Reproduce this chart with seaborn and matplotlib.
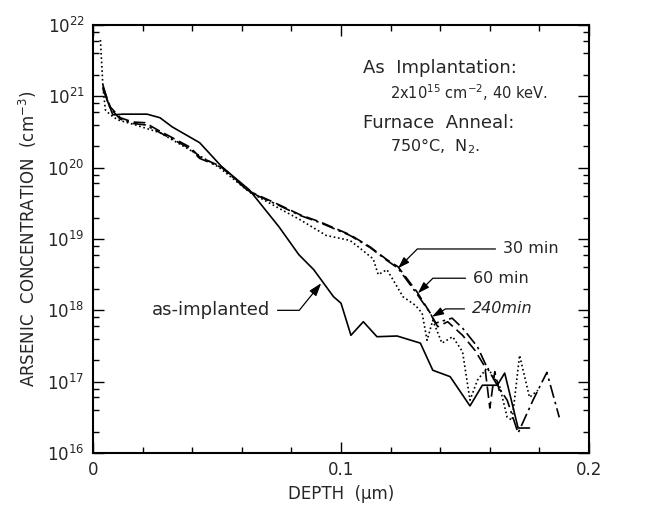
import numpy as np
import pandas as pd
import seaborn as sns
import matplotlib
matplotlib.use("Agg")
import matplotlib.pyplot as plt
from matplotlib.ticker import LogLocator, MultipleLocator, NullFormatter

# depth in um, concentration given as log10(cm^-3)
depth_asimp = [0.004, 0.006, 0.008, 0.012, 0.0218, 0.027, 0.032, 0.043, 0.052, 0.063,
               0.075, 0.083, 0.089, 0.097, 0.100, 0.104, 0.109, 0.1145, 0.1226, 0.132,
               0.137, 0.144, 0.152, 0.157, 0.163, 0.166, 0.1714, 0.176]
logc_asimp = [21.16, 20.92, 20.74, 20.75, 20.75, 20.70, 20.57, 20.35, 20.01, 19.69,
              19.17, 18.78, 18.57, 18.19, 18.10, 17.65, 17.84, 17.63, 17.64, 17.54,
              17.16, 17.07, 16.66, 16.95, 16.95, 17.12, 16.35, 16.35]

depth_30 = [0.003, 0.004, 0.005, 0.007, 0.010, 0.017, 0.027, 0.039, 0.051, 0.063,
            0.075, 0.0835, 0.094, 0.1036, 0.1077, 0.113, 0.115, 0.1185, 0.1206, 0.125,
            0.130, 0.1327, 0.1347, 0.137, 0.1407, 0.145, 0.149, 0.152, 0.155, 0.159,
            0.164, 0.167, 0.169, 0.172, 0.176, 0.1794]
logc_30 = [21.79, 21.13, 20.81, 20.74, 20.67, 20.60, 20.49, 20.25, 20.00, 19.66,
           19.43, 19.27, 19.05, 18.98, 18.87, 18.72, 18.50, 18.57, 18.45, 18.19,
           18.07, 17.96, 17.58, 17.86, 17.54, 17.63, 17.42, 16.74, 17.02, 17.20,
           16.93, 16.50, 16.46, 17.37, 16.78, 16.88]

depth_60 = [0.004, 0.007, 0.011, 0.016, 0.021, 0.026, 0.032, 0.039, 0.043, 0.052,
            0.063, 0.075, 0.0835, 0.0915, 0.1036, 0.1117, 0.1185, 0.123, 0.1306, 0.136,
            0.139, 0.143, 0.149, 0.154, 0.158, 0.160, 0.162, 0.164]
logc_60 = [21.13, 20.85, 20.70, 20.64, 20.63, 20.53, 20.42, 20.29, 20.15, 20.01,
           19.67, 19.48, 19.34, 19.24, 19.06, 18.89, 18.71, 18.61, 18.26, 17.96,
           17.77, 17.84, 17.65, 17.44, 17.21, 16.63, 17.14, 16.85]

depth_240 = [0.004, 0.007, 0.011, 0.016, 0.021, 0.026, 0.032, 0.039, 0.043, 0.052,
             0.063, 0.075, 0.0835, 0.0915, 0.1036, 0.1117, 0.1185, 0.123, 0.1306, 0.136,
             0.138, 0.1448, 0.149, 0.155, 0.159, 0.163, 0.167, 0.1714, 0.1774, 0.183,
             0.188]
logc_240 = [21.10, 20.83, 20.68, 20.62, 20.60, 20.51, 20.40, 20.27, 20.13, 20.00,
            19.66, 19.47, 19.33, 19.23, 19.05, 18.88, 18.70, 18.59, 18.23, 17.96,
            17.82, 17.89, 17.75, 17.49, 17.19, 16.95, 16.74, 16.28, 16.74, 17.13,
            16.50]

series_names = ["as-implanted", "30 min", "60 min", "240min"]
series_styles = ["-", (0, (1, 1.6)), (0, (7, 3)), (0, (8, 2.5, 1.5, 2.5))]


def main():
    sns.set_theme(style="ticks")
    plt.rcParams['font.family'] = ['DejaVu Sans']
    plt.rcParams['mathtext.default'] = 'regular'

    fig = plt.figure(figsize=(6.49, 5.05), dpi=100)
    ax = fig.add_axes([0.1433, 0.1030, 0.7643, 0.8475])

    data = [(depth_asimp, logc_asimp), (depth_30, logc_30),
            (depth_60, logc_60), (depth_240, logc_240)]
    for (d, lc), name, ls in zip(data, series_names, series_styles):
        df = pd.DataFrame({"depth": d, "conc": 10.0 ** np.array(lc)})
        sns.lineplot(x="depth", y="conc", data=df, ax=ax, color="black",
                     linestyle=ls, lw=1.2, estimator=None, sort=False)

    ax.set_yscale("log")
    ax.set_xlim(0, 0.2)
    ax.set_ylim(1e16, 1e22)
    ax.set_xticks([0, 0.1, 0.2])
    ax.set_xticklabels(["0", "0.1", "0.2"])
    ax.xaxis.set_minor_locator(MultipleLocator(0.02))
    ax.yaxis.set_major_locator(LogLocator(base=10, numticks=10))
    ax.yaxis.set_minor_locator(LogLocator(base=10, subs=(2, 4, 6, 8), numticks=20))
    ax.yaxis.set_minor_formatter(NullFormatter())
    ax.tick_params(which="both", direction="in", top=True, right=True,
                   color="black", labelsize=12, width=1.0)
    ax.tick_params(which="major", length=8, pad=6)
    ax.tick_params(which="minor", length=4)
    for sp in ax.spines.values():
        sp.set_linewidth(1.5)
        sp.set_color("black")

    ax.set_xlabel("DEPTH  (\u00b5m)", fontsize=12, labelpad=4)
    ax.set_ylabel("ARSENIC  CONCENTRATION  (cm$^{-3}$)", fontsize=12, labelpad=6)

    # process conditions
    ax.text(0.544, 0.899, "As  Implantation:", transform=ax.transAxes, fontsize=13, va="center")
    ax.text(0.599, 0.843, "2x10$^{15}$ cm$^{-2}$, 40 keV.", transform=ax.transAxes,
            fontsize=10.5, va="center")
    ax.text(0.544, 0.771, "Furnace  Anneal:", transform=ax.transAxes, fontsize=13, va="center")
    ax.text(0.599, 0.717, "750\u00b0C,  N$_2$.", transform=ax.transAxes, fontsize=11.5, va="center")

    arrow = dict(arrowstyle="-|>,head_length=0.6,head_width=0.2", color="black", lw=0.9,
                 shrinkA=3, shrinkB=0)
    ax.annotate("30 min", xy=(0.123, 10 ** 18.59), xytext=(0.1653, 10 ** 18.86),
                fontsize=11.5, va="center", ha="left",
                arrowprops=dict(arrow, connectionstyle="angle,angleA=0,angleB=45,rad=0"))
    ax.annotate("60 min", xy=(0.131, 10 ** 18.24), xytext=(0.1532, 10 ** 18.45),
                fontsize=11.5, va="center", ha="left",
                arrowprops=dict(arrow, connectionstyle="angle,angleA=0,angleB=45,rad=0"))
    ax.annotate("240min", xy=(0.1367, 10 ** 17.91), xytext=(0.1528, 10 ** 18.02),
                fontsize=11.5, va="center", ha="left", style="italic",
                arrowprops=dict(arrow, connectionstyle="angle,angleA=0,angleB=30,rad=0"))
    ax.annotate("as-implanted", xy=(0.092, 10 ** 18.38), xytext=(0.0714, 10 ** 18.0),
                fontsize=13, va="center", ha="right",
                arrowprops=dict(arrow, connectionstyle="angle,angleA=0,angleB=51,rad=0"))

    fig.savefig("out.png", dpi=100)
    plt.close("all")


if __name__ == '__main__':
    main()
